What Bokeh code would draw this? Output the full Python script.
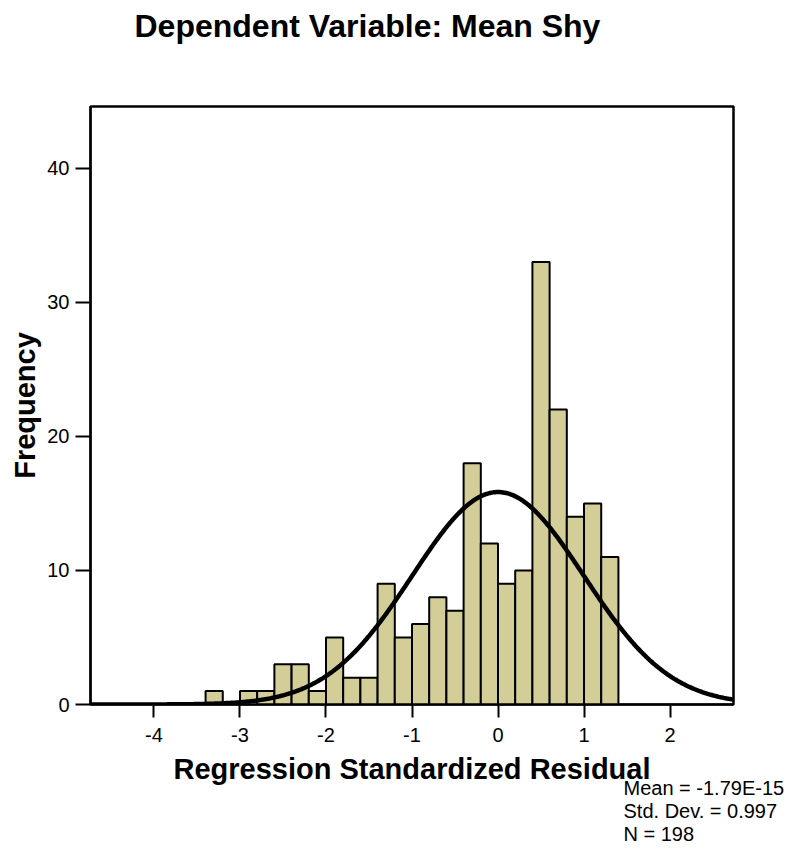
import numpy as np
from bokeh.plotting import figure
from bokeh.models import Range1d, FixedTicker, Title
from bokeh.embed import file_html
from bokeh.resources import INLINE

# Histogram data (bin left edges, width 0.2)
bin_left = [-3.4, -3.2, -3.0, -2.8, -2.6, -2.4, -2.2, -2.0, -1.8, -1.6, -1.4, -1.2,
            -1.0, -0.8, -0.6, -0.4, -0.2, 0.0, 0.2, 0.4, 0.6, 0.8, 1.0, 1.2]
counts = [1, 0, 1, 1, 3, 3, 1, 5, 2, 2, 9, 5,
          6, 8, 7, 18, 12, 9, 10, 33, 22, 14, 15, 11]
bin_width = 0.2
stat_mean = -1.79e-15
stat_sd = 0.997
stat_n = 198
x_ticks = [-4, -3, -2, -1, 0, 1, 2]
y_ticks = [0, 10, 20, 30, 40]
stats_lines = ["Mean = -1.79E-15", "Std. Dev. = 0.997", "N = 198"]

FONT = "Liberation Sans"

p = figure(width=790, height=846, output_backend="svg", toolbar_location=None,
           x_range=Range1d(-4.738, 2.738), y_range=Range1d(0, 44.6),
           min_border_left=90, min_border_right=57, min_border_top=106, min_border_bottom=142)
p.background_fill_color = "white"
p.border_fill_color = "white"
p.outline_line_color = "black"
p.outline_line_width = 2.5
p.grid.visible = False

lefts = np.array(bin_left)
rights = lefts + bin_width
p.quad(left=lefts, right=rights, bottom=0, top=counts,
       fill_color="#d3ce97", line_color="black", line_width=2)

xs = np.linspace(-4.738, 2.738, 400)
ys = stat_n * bin_width * np.exp(-0.5 * ((xs - stat_mean) / stat_sd) ** 2) / (stat_sd * np.sqrt(2 * np.pi))
p.line(xs, ys, line_color="black", line_width=4.5)

# axes
p.xaxis.ticker = FixedTicker(ticks=x_ticks)
p.yaxis.ticker = FixedTicker(ticks=y_ticks)
p.xaxis.major_label_overrides = {t: str(t) for t in x_ticks}
p.yaxis.major_label_overrides = {t: str(t) for t in y_ticks}
for ax in (p.xaxis[0], p.yaxis[0]):
    ax.axis_line_color = "black"
    ax.axis_line_width = 2
    ax.major_tick_line_color = "black"
    ax.major_tick_line_width = 2
    ax.major_tick_in = 0
    ax.minor_tick_line_color = None
    ax.major_label_text_font = FONT
    ax.major_label_text_font_size = "20px"
    ax.major_label_text_color = "black"
    ax.axis_label_text_font = FONT
    ax.axis_label_text_font_style = "bold"
    ax.axis_label_text_color = "black"

p.xaxis.major_tick_out = 13
p.xaxis.major_label_standoff = 10
p.xaxis.axis_label = "Regression Standardized Residual"
p.xaxis.axis_label_text_font_size = "29px"
p.xaxis.axis_label_standoff = 8

p.yaxis.major_tick_out = 15
p.yaxis.major_label_standoff = 6
p.yaxis.axis_label = "Frequency"
p.yaxis.axis_label_text_font_size = "29px"
p.yaxis.axis_label_standoff = 3

# spacer between frame and title, then the title itself
p.add_layout(Title(text=" ", text_font=FONT, text_font_size="10px", standoff=50), "above")
p.add_layout(Title(text="Dependent Variable: Mean Shy", align="left", offset=44,
                   text_font=FONT, text_font_style="bold", text_font_size="32px",
                   text_color="black", standoff=0), "above")

# statistics box (one multi-line title below the x axis)
p.add_layout(Title(text="\n".join(stats_lines), align="left", offset=533,
                   vertical_align="top", text_font=FONT,
                   text_font_style="normal", text_font_size="20px",
                   text_line_height=1.06,
                   text_color="black", standoff=-22), "below")

open("out.html", "w").write(file_html(p, INLINE))
